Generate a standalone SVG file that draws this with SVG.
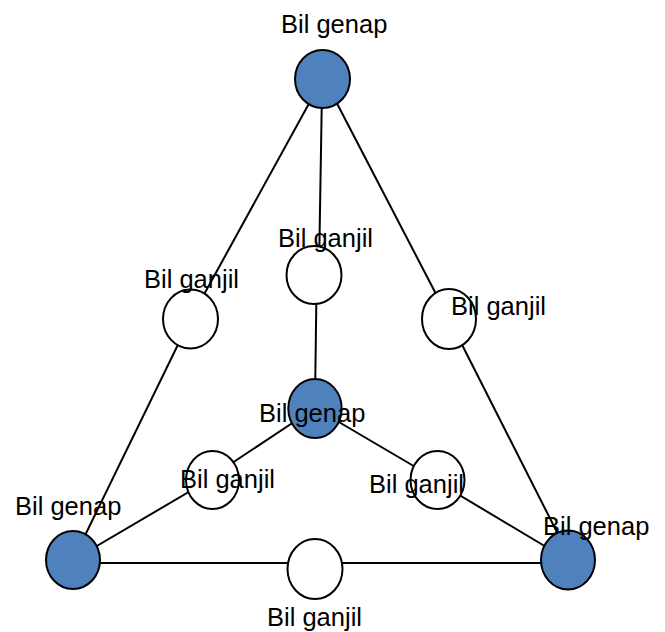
<svg xmlns="http://www.w3.org/2000/svg" width="665" height="632" viewBox="0 0 665 632">
<style>
.edge{stroke:#000;stroke-width:2;fill:none}
.even{fill:#4F81BD;stroke:#000;stroke-width:2}
.odd{fill:#fff;stroke:#000;stroke-width:2}
.lbl{font-family:"Liberation Sans",Arial,sans-serif;font-size:25.5px;fill:#000}
</style>
<rect width="665" height="632" fill="#fff"/>
<g id="connectors">
<line class="edge" x1="322.5" y1="79" x2="190.5" y2="319"/>
<line class="edge" x1="190.5" y1="319" x2="73" y2="560"/>
<line class="edge" x1="322" y1="90" x2="319" y2="270"/>
<line class="edge" x1="316.5" y1="290" x2="315" y2="400"/>
<line class="edge" x1="330" y1="90" x2="449" y2="319"/>
<line class="edge" x1="449" y1="319" x2="566" y2="550"/>
<line class="edge" x1="315" y1="408" x2="212.5" y2="476"/>
<line class="edge" x1="315" y1="408" x2="437.5" y2="480"/>
<line class="edge" x1="212.5" y1="478" x2="73" y2="560"/>
<line class="edge" x1="437.5" y1="482" x2="568" y2="560"/>
<line class="edge" x1="73" y1="563" x2="568" y2="563"/>
</g>
<g id="n-top"><ellipse class="even" cx="322.5" cy="79" rx="27.5" ry="29"/><text class="lbl" x="281" y="33">Bil genap</text></g>
<g id="n-left-mid"><ellipse class="odd" cx="190.5" cy="319" rx="27.5" ry="29.5"/><text class="lbl" x="144" y="288">Bil ganjil</text></g>
<g id="n-center-top"><ellipse class="odd" cx="314" cy="275" rx="27.5" ry="29"/><text class="lbl" x="278" y="247">Bil ganjil</text></g>
<g id="n-right-mid"><ellipse class="odd" cx="449" cy="319" rx="27" ry="30"/><text class="lbl" x="451" y="315">Bil ganjil</text></g>
<g id="n-center"><ellipse class="even" cx="315" cy="408.5" rx="26.7" ry="29.5"/><text class="lbl" x="259" y="422">Bil genap</text></g>
<g id="n-inner-left"><ellipse class="odd" cx="212.5" cy="480" rx="26.5" ry="29"/><text class="lbl" x="180" y="488">Bil ganjil</text></g>
<g id="n-inner-right"><ellipse class="odd" cx="437.5" cy="480" rx="27" ry="29"/><text class="lbl" x="369" y="493">Bil ganjil</text></g>
<g id="n-bottom-left"><ellipse class="even" cx="73" cy="560" rx="27" ry="29"/><text class="lbl" x="15" y="515">Bil genap</text></g>
<g id="n-bottom-center"><ellipse class="odd" cx="315" cy="569" rx="27.5" ry="30"/><text class="lbl" x="267" y="626">Bil ganjil</text></g>
<g id="n-bottom-right"><ellipse class="even" cx="568" cy="560" rx="27" ry="29.5"/><text class="lbl" x="543" y="535">Bil genap</text></g>
</svg>
